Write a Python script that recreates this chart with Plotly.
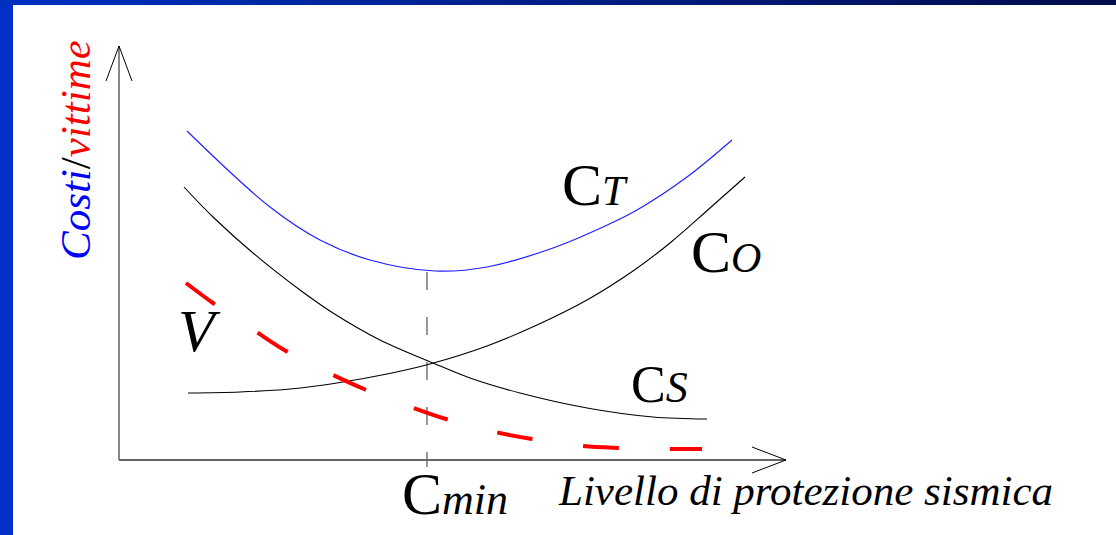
import plotly.graph_objects as go

# ---- data (arbitrary units: level of protection vs cost / victims) ----
ct_x = [6.8, 15.1, 20.1, 25.1, 31.6, 36.8, 43.4, 48.4, 51.8, 56.8, 61.3]
ct_y = [32.9, 25.3, 22.0, 20.0, 18.9, 19.3, 21.2, 23.3, 25.0, 28.3, 32.0]

co_x = [6.9, 12.1, 17.1, 21.8, 26.8, 31.1, 36.8, 41.8, 46.8, 51.4, 55.1, 59.1, 62.6]
co_y = [6.7, 6.8, 7.1, 7.7, 8.6, 9.6, 11.4, 13.5, 16.0, 18.9, 21.7, 25.2, 28.3]

cs_x = [6.5, 9.4, 13.4, 18.1, 21.4, 26.1, 31.4, 35.1, 40.1, 46.8, 53.4, 58.8]
cs_y = [27.3, 24.3, 20.7, 17.0, 14.7, 12.0, 9.7, 8.2, 6.7, 5.2, 4.3, 4.1]

v_x = [6.7, 9.4, 13.6, 16.7, 21.2, 24.5, 29.2, 32.7, 37.6, 41.3, 46.3, 49.9, 54.9, 58.3]
v_y = [17.7, 15.7, 12.9, 10.9, 8.6, 7.1, 5.3, 4.1, 2.8, 2.1, 1.4, 1.2, 1.1, 1.1]

cmin_x = 30.8
cmin_top = 18.8
x_axis_end = 66.7
y_axis_end = 41.4

FONT = "Liberation Serif, Times New Roman, serif"

fig = go.Figure()

# Cmin dashed guide
fig.add_trace(go.Scatter(x=[cmin_x, cmin_x], y=[cmin_top, -0.7], mode="lines",
                         line=dict(color="#777777", width=1.5, dash="18px,27px"),
                         hoverinfo="skip", showlegend=False))
fig.add_trace(go.Scatter(x=ct_x, y=ct_y, mode="lines",
                         line=dict(color="#2020ff", width=1.2, shape="spline", smoothing=1.0),
                         showlegend=False))
fig.add_trace(go.Scatter(x=co_x, y=co_y, mode="lines",
                         line=dict(color="black", width=1.1, shape="spline", smoothing=1.0),
                         showlegend=False))
fig.add_trace(go.Scatter(x=cs_x, y=cs_y, mode="lines",
                         line=dict(color="black", width=1.1, shape="spline", smoothing=1.0),
                         showlegend=False))
fig.add_trace(go.Scatter(x=v_x, y=v_y, mode="lines",
                         line=dict(color="#ff0000", width=4, shape="spline", smoothing=1.0, dash="36px,51px"),
                         showlegend=False))

shapes = []
# axes shafts
shapes.append(dict(type="line", x0=0, y0=0, x1=0, y1=y_axis_end, line=dict(color="#888888", width=2)))
shapes.append(dict(type="line", x0=0, y0=0, x1=x_axis_end, y1=0, line=dict(color="#666666", width=2)))
# arrow heads
for (x1, y1) in [(-1.3, y_axis_end - 3.5), (1.3, y_axis_end - 3.5)]:
    shapes.append(dict(type="line", x0=0, y0=y_axis_end, x1=x1, y1=y1, line=dict(color="black", width=1)))
for (x1, y1) in [(x_axis_end - 3.4, 1.3), (x_axis_end - 3.4, -1.3)]:
    shapes.append(dict(type="line", x0=x_axis_end, y0=0, x1=x1, y1=y1, line=dict(color="black", width=1)))

# decorative frame: left bar and top gradient bar
shapes.append(dict(type="rect", xref="paper", yref="paper", x0=0, x1=13 / 1116, y0=0, y1=1,
                   fillcolor="#0030c8", line=dict(width=0), layer="above"))
n = 40
c0 = (0x00, 0x30, 0xc0)
c1 = (0x00, 0x0c, 0x4c)
for i in range(n):
    t = i / (n - 1)
    col = "rgb(%d,%d,%d)" % tuple(round(a + (b - a) * t) for a, b in zip(c0, c1))
    shapes.append(dict(type="rect", xref="paper", yref="paper", x0=i / n, x1=(i + 1) / n + 0.002,
                       y0=1 - 5 / 535, y1=1, fillcolor=col, line=dict(width=0), layer="above"))

ann = []
def label(x, y, text, size, xanchor="left"):
    ann.append(dict(x=x, y=y, xref="x", yref="y", text=text, showarrow=False, xanchor=xanchor,
                    yanchor="middle", font=dict(family=FONT, size=size, color="black")))

label(44.1, 27.5, "C<span style='font-size:42px'><i>T</i></span>", 60)
label(57.0, 20.8, "C<span style='font-size:42px'><i>O</i></span>", 60)
label(51.0, 7.6, "C<span style='font-size:44px'><i>S</i></span>", 52)
label(5.7, 12.9, "<i>V</i>", 60)
label(28.1, -3.4, "C<span style='font-size:44px'><i>min</i></span>", 60)
label(43.7, -3.0, "<i>Livello di protezione sismica</i>", 43)

ann.append(dict(x=-4.4, y=31.0, xref="x", yref="y", textangle=-90, showarrow=False,
                text="<i><span style='color:#0000ff'>Costi</span></i>/<i><span style='color:#ff0000'>vittime</span></i>",
                font=dict(family=FONT, size=43, color="black"), xanchor="center", yanchor="middle"))

fig.update_layout(
    width=1116, height=535, margin=dict(l=0, r=0, t=0, b=0),
    paper_bgcolor="white", plot_bgcolor="white",
    xaxis=dict(range=[-11.9, 99.7], visible=False, fixedrange=True),
    yaxis=dict(range=[-7.5, 46.0], visible=False, fixedrange=True),
    shapes=shapes, annotations=ann, showlegend=False,
)

fig.write_html("out.html", config={"displayModeBar": False},
               post_script="document.body.style.margin='0';document.body.style.overflow='hidden';")
